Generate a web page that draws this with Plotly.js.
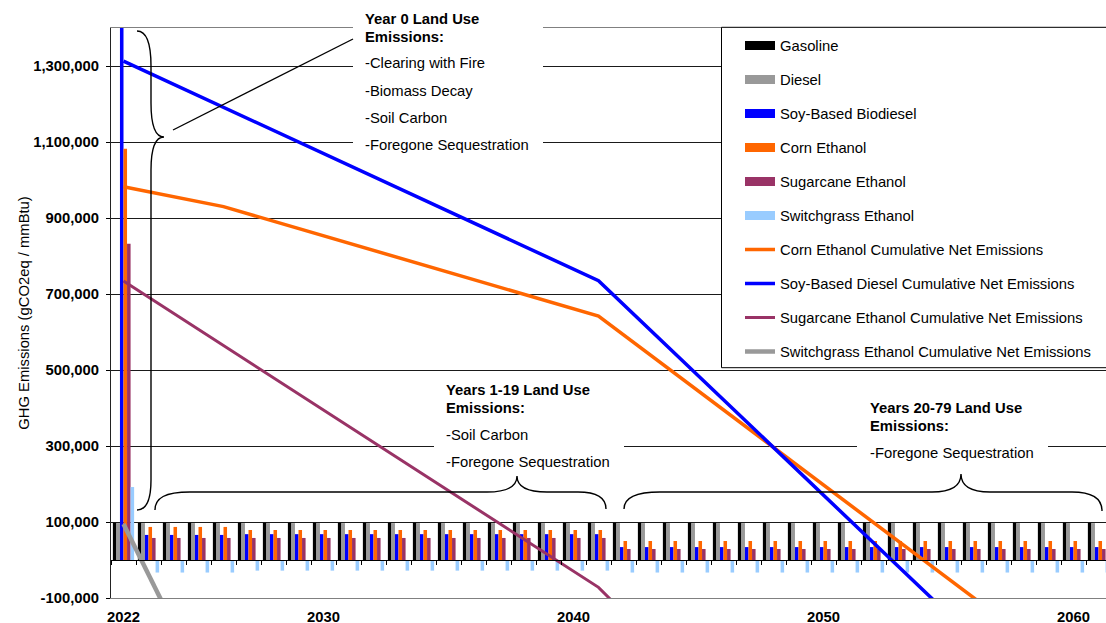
<!DOCTYPE html>
<html><head><meta charset="utf-8">
<script src="https://cdn.plot.ly/plotly-3.0.1.min.js"></script>
<style>html,body{margin:0;padding:0;background:#fff;}#chart{width:1106px;height:623px;}</style>
</head><body><div id="chart"></div>
<script>
// ---------- DATA ----------
const years = [2022,2023,2024,2025,2026,2027,2028,2029,2030,2031,
               2032,2033,2034,2035,2036,2037,2038,2039,2040,2041,
               2042,2043,2044,2045,2046,2047,2048,2049,2050,2051,
               2052,2053,2054,2055,2056,2057,2058,2059,2060,2061];
const gasoline = [98000,98000,98000,98000,98000,98000,98000,98000,98000,98000,
                  98000,98000,98000,98000,98000,98000,98000,98000,98000,98000,
                  98000,98000,98000,98000,98000,98000,98000,98000,98000,98000,
                  98000,98000,98000,98000,98000,98000,98000,98000,98000,98000];
const diesel = [97000,97000,97000,97000,97000,97000,97000,97000,97000,97000,
                97000,97000,97000,97000,97000,97000,97000,97000,97000,97000,
                97000,97000,97000,97000,97000,97000,97000,97000,97000,97000,
                97000,97000,97000,97000,97000,97000,97000,97000,97000,97000];
const soyBiodiesel = [1450000,66000,66000,66000,66000,68000,68000,68000,68000,68000,
                      68000,68000,68000,68000,68000,68000,68000,68000,68000,68000,
                      34000,34000,34000,34000,34000,34000,34000,34000,34000,34000,
                      34000,34000,34000,34000,34000,34000,34000,34000,34000,34000];
const cornEthanol = [1082000,87000,87000,87000,87000,79000,79000,79000,79000,79000,
                     79000,79000,79000,79000,79000,79000,79000,79000,79000,79000,
                     50000,50000,50000,50000,50000,50000,50000,50000,50000,50000,
                     50000,50000,50000,50000,50000,50000,50000,50000,50000,50000];
const sugarcaneEthanol = [832000,58000,58000,58000,58000,58000,58000,58000,58000,58000,
                          58000,58000,58000,58000,58000,58000,58000,58000,58000,58000,
                          29000,29000,29000,29000,29000,29000,29000,29000,29000,29000,
                          29000,29000,29000,29000,29000,29000,29000,29000,29000,29000];
const switchgrassEthanol = [192000,-33000,-33000,-33000,-33000,-28000,-28000,-28000,-28000,-28000,
                            -28000,-28000,-28000,-28000,-28000,-28000,-28000,-28000,-28000,-28000,
                            -33000,-33000,-33000,-33000,-33000,-33000,-33000,-33000,-33000,-33000,
                            -33000,-33000,-33000,-33000,-33000,-33000,-33000,-33000,-33000,-33000];

const cornCumYears = [2022, 2026, 2041, 2061];
const cornCum = [982000, 930000, 642000, -346000];
const soyCumYears = [2022, 2041, 2061];
const soyCum = [1313000, 735000, -519000];
const sugarCumYears = [2022, 2041, 2042];
const sugarCum = [734000, -72000, -138000];
const switchCumYears = [2022, 2023, 2024];
const switchCum = [95000, -38000, -171000];

const xTickVals = [2022, 2030, 2040, 2050, 2060];
const xTickText = ['2022', '2030', '2040', '2050', '2060'];
const yTickVals = [-100000, 100000, 300000, 500000, 700000, 900000, 1100000, 1300000];
const yTickText = ['-100,000', '100,000', '300,000', '500,000', '700,000', '900,000', '1,100,000', '1,300,000'];

// ---------- STYLE ----------
const FONT = 'Liberation Sans, Arial, sans-serif';
const FS = 14.8;
const C = {gas:'#000000', diesel:'#999999', soy:'#0000FF', corn:'#FF6600', sugar:'#993366', switch:'#99CCFF', switchLine:'#999999'};
const Y_MIN = -100000, Y_MAX = 1400000;
const X_RANGE = [2021.5, 2061.3];

// plot-area pixel geometry -> paper coordinates (for annotations/shapes)
const PL = 111, PT = 28, PW = 995, PH = 570;
const px = x => (x - PL) / PW;
const py = y => (PT + PH - y) / PH;

const barDefs = [
  ['Gasoline', gasoline, C.gas],
  ['Diesel', diesel, C.diesel],
  ['Soy-Based Biodiesel', soyBiodiesel, C.soy],
  ['Corn Ethanol', cornEthanol, C.corn],
  ['Sugarcane Ethanol', sugarcaneEthanol, C.sugar],
  ['Switchgrass Ethanol', switchgrassEthanol, C.switch]
];
const lineDefs = [
  ['Corn Ethanol Cumulative Net Emissions', cornCumYears, cornCum, C.corn, 3.5],
  ['Soy-Based Diesel Cumulative Net Emissions', soyCumYears, soyCum, C.soy, 3.5],
  ['Sugarcane Ethanol Cumulative Net Emissions', sugarCumYears, sugarCum, C.sugar, 3],
  ['Switchgrass Ethanol Cumulative Net Emissions', switchCumYears, switchCum, C.switchLine, 4.5]
];

const traces = [];
// legend swatches for the bar series (wide flat swatches like the original)
barDefs.forEach((d, i) => traces.push({
  type:'scatter', mode:'lines', x:[null], y:[null], name:d[0], legendgroup:'b'+i,
  line:{color:d[2], width:9}, xaxis:'x2', hoverinfo:'skip'
}));
barDefs.forEach((d, i) => traces.push({
  type:'bar', x:years, y:d[1], name:d[0], showlegend:false, legendgroup:'b'+i,
  marker:{color:d[2], line:{width:0}}
}));
lineDefs.forEach((d, i) => traces.push({
  type:'scatter', mode:'lines', x:d[1], y:d[2], name:d[0], legendgroup:'l'+i,
  line:{color:d[3], width:d[4]}
}));

const boundaries = years.map(y => y - 0.5).concat([years[years.length-1] + 0.5]);

function path(pts) {
  return pts.map(p => p[0] + p.slice(1).map((v, k) => k % 2 === 0 ? px(v).toFixed(5) : py(v).toFixed(5))
    .reduce((s, v, k) => s + (k % 2 === 0 ? (k ? ' ' : '') + v : ',' + v), '')).join(' ');
}
const braceStyle = {type:'path', xref:'paper', yref:'paper', layer:'above', line:{color:'#000', width:1.4}};
const shapes = [
  // white text boxes
  {type:'rect', xref:'paper', yref:'paper', layer:'above', x0:px(353), x1:px(543), y0:py(157), y1:py(-5), fillcolor:'#fff', line:{width:0}},
  {type:'rect', xref:'paper', yref:'paper', layer:'above', x0:px(434), x1:px(624), y0:py(471), y1:py(375), fillcolor:'#fff', line:{width:0}},
  {type:'rect', xref:'paper', yref:'paper', layer:'above', x0:px(857), x1:px(1048), y0:py(470), y1:py(397), fillcolor:'#fff', line:{width:0}},
  // legend box
  {type:'rect', xref:'paper', yref:'paper', layer:'above', x0:px(721.5), x1:px(1115), y0:py(367.7), y1:py(27.3), fillcolor:'#fff', line:{color:'#000', width:1}},
  // vertical brace (year 0)
  Object.assign({path: path([['M',137,31],['C',147,31,151,45,151,66],['L',151,103],['C',151,125,155,137,164,137],
    ['C',155,137,151,149,151,170],['L',151,480],['C',151,500,147,510,137,510]])}, braceStyle),
  // pointer line
  {type:'line', xref:'paper', yref:'paper', layer:'above', x0:px(173), y0:py(130), x1:px(353), y1:py(39), line:{color:'#000', width:1.4}},
  // horizontal brace (years 1-19)
  Object.assign({path: path([['M',155,510],['C',155,498,165,492,190,492],['L',487,492],['C',508,492,517,486,517,476],
    ['C',517,486,526,492,547,492],['L',578,492],['C',598,492,606,498,606,509]])}, braceStyle),
  // horizontal brace (years 20-79)
  Object.assign({path: path([['M',624,509],['C',624,497,636,492,660,492],['L',932,492],['C',952,492,961,485,961,474],
    ['C',961,485,970,492,990,492],['L',1072,492],['C',1094,492,1102,499,1102,511]])}, braceStyle)
];

function note(text, left, baseline, bold) {
  return {xref:'paper', yref:'paper', x:px(left - 2), y:py(baseline - 5), xanchor:'left', yanchor:'middle',
    text: bold ? '<b>' + text + '</b>' : text, showarrow:false, align:'left',
    font:{family:FONT, size:FS, color:'#000'}};
}
const annotations = [
  note('Year 0 Land Use', 365, 24, true),
  note('Emissions:', 365, 41.7, true),
  note('-Clearing with Fire', 365, 68.3),
  note('-Biomass Decay', 365, 95.7),
  note('-Soil Carbon', 365, 122.7),
  note('-Foregone Sequestration', 365, 150),
  note('Years 1-19 Land Use', 446, 395, true),
  note('Emissions:', 446, 413.3, true),
  note('-Soil Carbon', 446, 440),
  note('-Foregone Sequestration', 446, 466.7),
  note('Years 20-79 Land Use', 870, 412.7, true),
  note('Emissions:', 870, 430.7, true),
  note('-Foregone Sequestration', 870, 458.3)
];

const layout = {
  width:1106, height:623,
  margin:{l:PL, r:0, t:PT, b:623 - PT - PH, autoexpand:false},
  paper_bgcolor:'#fff', plot_bgcolor:'#fff',
  font:{family:FONT, size:FS, color:'#000'},
  barmode:'group', bargap:0.15, bargroupgap:0,
  showlegend:true,
  legend:{x:px(740), xanchor:'left', y:py(29.5), yanchor:'top', bgcolor:'rgba(0,0,0,0)', borderwidth:0,
    font:{family:FONT, size:FS, color:'#000'}, traceorder:'grouped', tracegroupgap:11.76, itemwidth:30},
  xaxis:{type:'linear', range:X_RANGE, tickvals:xTickVals, ticktext:xTickText, ticks:'', showgrid:false, zeroline:false,
    showline:true, linecolor:'#808080', linewidth:1, mirror:true,
    tickfont:{family:FONT, size:FS, color:'#000', weight:'bold'}, ticklabelstandoff:5},
  xaxis2:{type:'linear', overlaying:'x', anchor:'free', position:(0 - Y_MIN) / (Y_MAX - Y_MIN), side:'bottom',
    range:X_RANGE, tickvals:boundaries, ticks:'outside', ticklen:4, tickcolor:'#000', tickwidth:1,
    showticklabels:false, showline:true, linecolor:'#000', linewidth:1, showgrid:false, zeroline:false},
  yaxis:{range:[Y_MIN, Y_MAX], tickvals:yTickVals, ticktext:yTickText, ticks:'outside', ticklen:4, tickcolor:'#000',
    showline:true, linecolor:'#222', linewidth:1, showgrid:true, gridcolor:'#1a1a1a', gridwidth:1, zeroline:false,
    tickfont:{family:FONT, size:FS, color:'#000', weight:'bold'}, ticklabelstandoff:4,
    title:{text:'GHG Emissions (gCO2eq / mmBtu)', font:{family:FONT, size:FS, color:'#000'}, standoff:0}},
  shapes:shapes, annotations:annotations
};

Plotly.newPlot('chart', traces, layout, {staticPlot:true, displayModeBar:false});
</script>
</body></html>
